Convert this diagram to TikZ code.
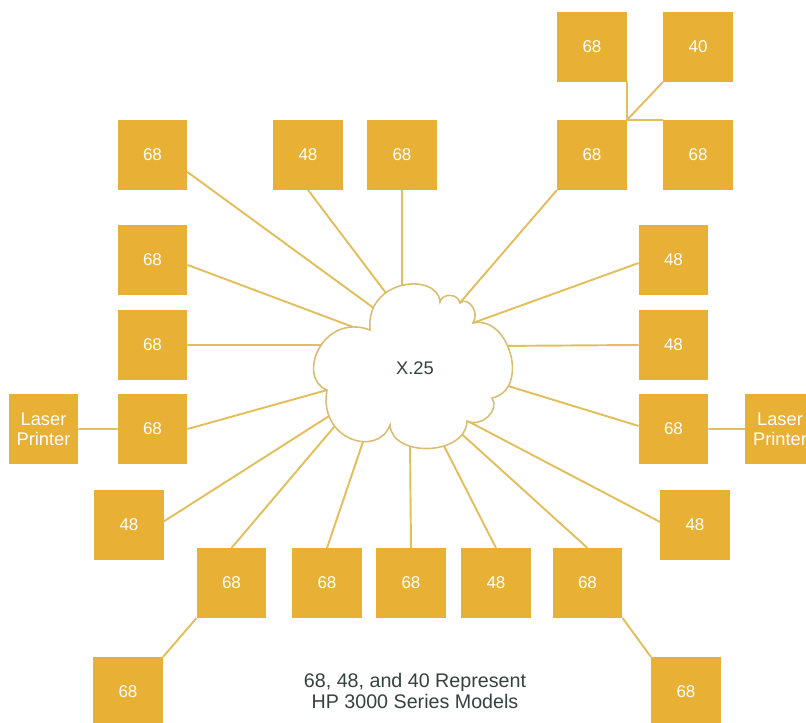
\documentclass[tikz,border=0pt]{standalone}
\usepackage{fontspec}
\setmainfont{Liberation Sans}
\definecolor{gold}{HTML}{E8B034}
\definecolor{wire}{HTML}{E2BE5C}
\definecolor{cloudline}{HTML}{D9BE72}
\definecolor{ink}{HTML}{34423F}
\tikzset{
  host/.style={fill=gold, minimum size=1.4cm, inner sep=0pt, outer sep=0pt, text=white, font=\fontsize{9.7}{11}\selectfont},
  printer/.style={host, align=center, font=\fontsize{10.4}{11.4}\selectfont},
  cable/.style={draw=wire, line width=1.1pt},
}

\begin{document}
\begin{tikzpicture}[x=0.02cm, y=-0.02cm]
    \useasboundingbox (0,0) rectangle (806,723);
    % top row
    \node[host] at(152.5,155)(b1){68};
    \node[host] at(308,155)(b2){48};
    \node[host] at(402,155)(b3){68};
    \node[host] at(592,47)(tr1){68};
    \node[host] at(698,47)(tr2){40};
    \node[host] at(592,155)(tr3){68};
    \node[host] at(698,155)(tr4){68};
    % left side
    \node[host] at(152.5,260)(l1){68};
    \node[host] at(152.5,345)(l2){68};
    \node[host] at(152.5,429)(l3){68};
    \node[printer] at(43.5,429)(pl){Laser\\Printer};
    \node[host] at(129,525)(l4){48};
    % right side
    \node[host] at(673.5,260)(r1){48};
    \node[host] at(673.5,345)(r2){48};
    \node[host] at(673.5,429)(r3){68};
    \node[printer] at(780,429)(pr){Laser\\Printer};
    \node[host] at(695,525)(r4){48};
    % bottom row
    \node[host] at(231.5,583)(bt1){68};
    \node[host] at(327,583)(bt2){68};
    \node[host] at(411,583)(bt3){68};
    \node[host] at(496,583)(bt4){48};
    \node[host] at(587.5,583)(bt5){68};
    \node[host] at(128,692)(bl){68};
    \node[host] at(686,692)(br){68};
    % ends of the lines on the cloud
    \coordinate (e1) at(386,317);
    \coordinate (e2) at(392,301);
    \coordinate (e3) at(402,295);
    \coordinate (e4) at(452,312);
    \coordinate (e5) at(470,324);
    \coordinate (e6) at(495,346);
    \coordinate (e7) at(495,382);
    \coordinate (e8) at(458,416);
    \coordinate (e9) at(455,428);
    \coordinate (e10) at(442,442);
    \coordinate (e11) at(410,440);
    \coordinate (e12) at(366,433);
    \coordinate (e13) at(340,420);
    \coordinate (e14) at(337,411);
    \coordinate (e15) at(338,387);
    \coordinate (e16) at(325,345);
    \coordinate (e17) at(353,327);
    \draw[cable] (b1.-26) -- (e1) (b2.south) -- (e2) (b3.south) -- (e3) (tr3.south west) -- (e4)
        (r1.185) -- (e5) (r2.west) -- (e6) (r3.175) -- (e7) (r4.175) -- (e8)
        (bt5.north) -- (e9) (bt4.north) -- (e10) (bt3.north) -- (e11) (bt2.north) -- (e12) (bt1.north) -- (e13)
        (l4.6) -- (e14) (l3.east) -- (e15) (l2.east) -- (e16) (l1.-8) -- (e17);
    \draw[cable] (tr1.south east) -- (tr3.north east) (tr2.south west) -- (tr3.north east) -- (tr4.north west);
    \draw[cable] (pl) -- (l3) (r3) -- (pr) (bl.north east) -- (bt1.south west) (bt5.south east) -- (br.north west);
    % the X.25 cloud
    \draw[draw=cloudline, fill=white, line width=0.9pt]
        (370,330) .. controls (365,278) and (438,272) .. (440,302)
        .. controls (442,293) and (458,293) .. (460,303)
        .. controls (468,296) and (480,312) .. (473,323)
        .. controls (510,315) and (530,390) .. (492,398)
        .. controls (500,410) and (482,428) .. (467,421)
        .. controls (466,456) and (392,458) .. (390,425)
        .. controls (378,458) and (318,440) .. (327,390)
        .. controls (296,378) and (322,312) .. (370,330) -- cycle;
    \node[text=ink, font=\fontsize{10.4}{12}\selectfont] at(415,368)(x25){X.25};
    % caption
    \node[text=ink, align=center, font=\fontsize{11.2}{9.8}\selectfont] at(415,691)(note){68, 48, and 40 Represent\\HP 3000 Series Models};
\end{tikzpicture}
\end{document}
